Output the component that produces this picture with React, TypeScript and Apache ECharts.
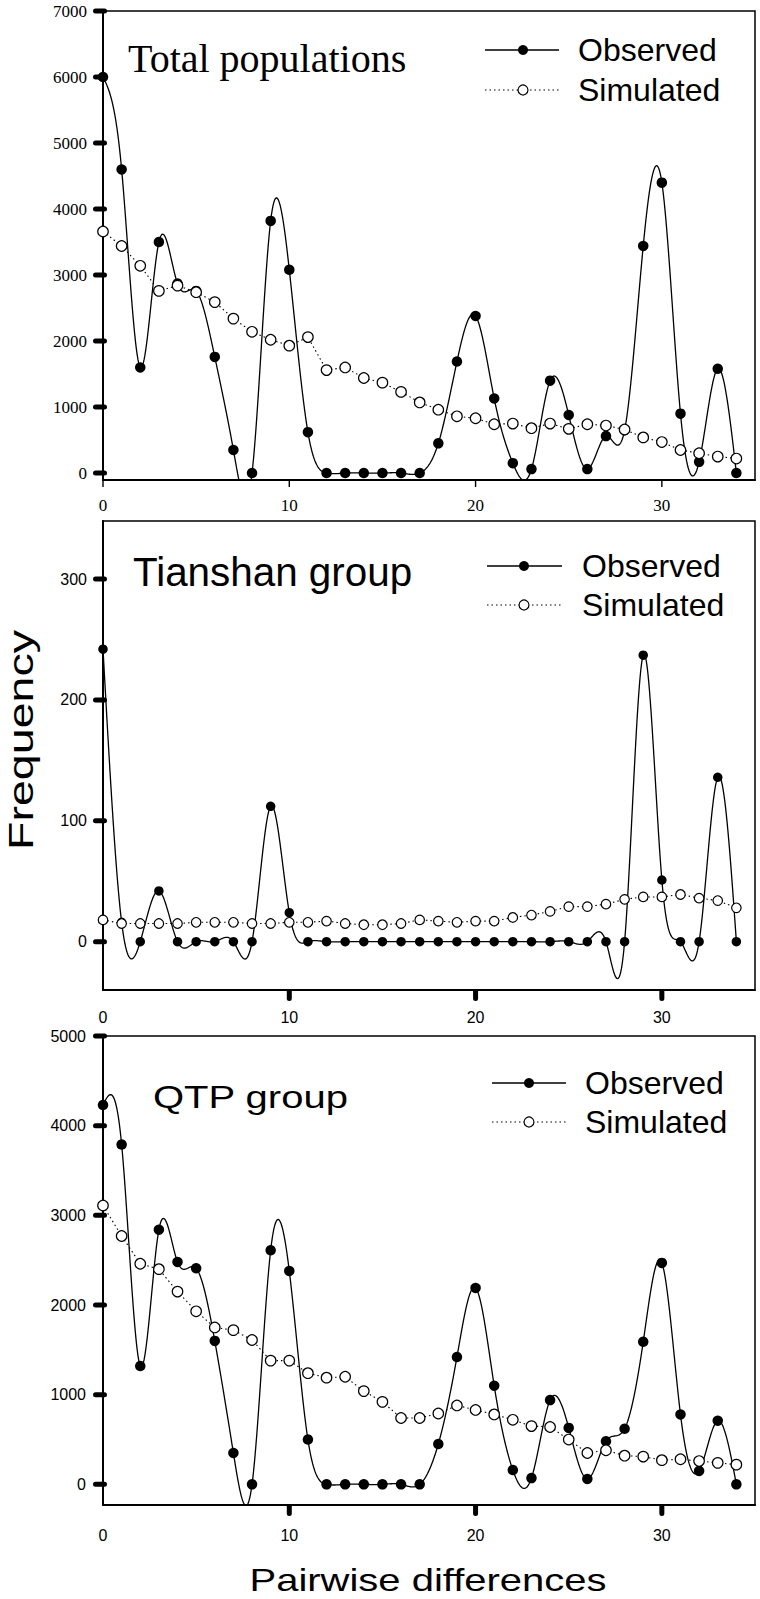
import React, { useEffect, useRef } from "react";
import * as echarts from "echarts";

// ---------------- data ----------------
const pairwise = [0, 1, 2, 3, 4, 5, 6, 7, 8, 9, 10, 11, 12, 13, 14, 15, 16, 17, 18, 19, 20, 21, 22, 23, 24, 25, 26, 27, 28, 29, 30, 31, 32, 33, 34];

const totalObserved = [6000, 4600, 1600, 3500, 2870, 2760, 1760, 350, 0, 3820, 3080, 620, 0, 0, 0, 0, 0, 0, 450, 1690, 2380, 1130, 150, 60, 1400, 880, 60, 560, 650, 3440, 4400, 900, 170, 1580, 0];
const totalSimulated = [3660, 3440, 3140, 2760, 2840, 2740, 2590, 2340, 2140, 2020, 1930, 2060, 1560, 1600, 1440, 1370, 1230, 1070, 960, 860, 830, 740, 750, 680, 750, 670, 740, 720, 660, 540, 470, 350, 300, 250, 220];

const tianshanObserved = [242, 16, 0, 42, 0, 0, 0, 0, 0, 112, 24, 0, 0, 0, 0, 0, 0, 0, 0, 0, 0, 0, 0, 0, 0, 0, 0, 0, 0, 237, 51, 0, 0, 136, 0];
const tianshanSimulated = [18, 15, 15, 15, 15, 16, 16, 16, 15, 15, 16, 16, 17, 15, 14, 14, 15, 18, 17, 16, 17, 17, 20, 22, 25, 29, 29, 31, 35, 37, 37, 39, 36, 34, 28];

const qtpObserved = [4230, 3790, 1320, 2840, 2480, 2410, 1600, 350, 0, 2610, 2380, 500, 0, 0, 0, 0, 0, 0, 450, 1420, 2190, 1100, 160, 70, 940, 630, 60, 480, 620, 1590, 2470, 780, 150, 710, 0];
const qtpSimulated = [3110, 2770, 2460, 2400, 2150, 1930, 1750, 1720, 1610, 1380, 1380, 1240, 1190, 1200, 1040, 920, 740, 740, 790, 880, 830, 780, 720, 650, 640, 500, 350, 380, 320, 310, 270, 280, 260, 240, 220];

const xTickLabels = [0, 10, 20, 30];
const xThickTicks = [10, 20, 30];
const totalYTicks = [0, 1000, 2000, 3000, 4000, 5000, 6000, 7000];
const tianshanYTicks = [0, 100, 200, 300];
const qtpYTicks = [0, 1000, 2000, 3000, 4000, 5000];

const panelTitles = ["Total populations", "Tianshan group", "QTP group"];
const legendNames = ["Observed", "Simulated"];
const xAxisTitle = "Pairwise differences";
const yAxisTitle = "Frequency";

// ---------------- helpers ----------------
const SERIF = "'Liberation Serif', 'Times New Roman', serif";
const SANS = "'Liberation Sans', Arial, sans-serif";

function naturalSpline(ys: number[]): number[] {
  const n = ys.length;
  const M = new Array(n).fill(0);
  if (n < 3) return M;
  const m = n - 2;
  const cp = new Array(m).fill(0);
  const dp = new Array(m).fill(0);
  for (let k = 0; k < m; k++) {
    const i = k + 1;
    const r = 6 * (ys[i + 1] - 2 * ys[i] + ys[i - 1]);
    if (k === 0) {
      cp[k] = 1 / 4;
      dp[k] = r / 4;
    } else {
      const den = 4 - cp[k - 1];
      cp[k] = 1 / den;
      dp[k] = (r - dp[k - 1]) / den;
    }
  }
  for (let k = m - 1; k >= 0; k--) {
    M[k + 1] = dp[k] - (k < m - 1 ? cp[k] * M[k + 2] : 0);
  }
  return M;
}

function makeSplineRenderer(ys: number[], yMin: number) {
  const M = naturalSpline(ys);
  return (params: any, api: any) => {
    const i = params.dataIndex;
    if (i >= ys.length - 1) return { type: "group", children: [] };
    const pts: number[][] = [];
    const steps = 24;
    for (let k = 0; k <= steps; k++) {
      const t = k / steps;
      const u = 1 - t;
      let y = u * ys[i] + t * ys[i + 1] + ((u * u * u - u) * M[i] + (t * t * t - t) * M[i + 1]) / 6;
      if (y < yMin) y = yMin;
      const x = pairwise[i] + t * (pairwise[i + 1] - pairwise[i]);
      pts.push(api.coord([x, y]));
    }
    return {
      type: "polyline",
      shape: { points: pts },
      style: { stroke: "#000", lineWidth: 1.3, fill: "none" },
    };
  };
}

const panels = [
  {
    obs: totalObserved,
    sim: totalSimulated,
    yMin: -105,
    yMax: 7000,
    yTicks: totalYTicks,
    top: 11,
    labelFont: SERIF,
    xThinTicks: true,
    xLabelMargin: 17,
    yLabelMargin: 16,
    legend: { x1: 485, x2: 559, mx: 523, oy: 50, sy: 90, tx: 578 },
    title: { x: 128, y: 58, font: SERIF, size: 40, scaleX: 1 },
    symbol: 10.5,
  },
  {
    obs: tianshanObserved,
    sim: tianshanSimulated,
    yMin: -40,
    yMax: 348,
    yTicks: tianshanYTicks,
    top: 521,
    labelFont: SANS,
    xThinTicks: false,
    xLabelMargin: 19,
    yLabelMargin: 16,
    legend: { x1: 487, x2: 562, mx: 524, oy: 566, sy: 605, tx: 582 },
    title: { x: 133, y: 573, font: SANS, size: 40, scaleX: 1.01 },
    symbol: 9.5,
  },
  {
    obs: qtpObserved,
    sim: qtpSimulated,
    yMin: -230,
    yMax: 5000,
    yTicks: qtpYTicks,
    top: 1036,
    labelFont: SANS,
    xThinTicks: false,
    xLabelMargin: 22,
    yLabelMargin: 17,
    legend: { x1: 492, x2: 566, mx: 529, oy: 1083, sy: 1122, tx: 585 },
    title: { x: 153, y: 1097, font: SANS, size: 32, scaleX: 1.25 },
    symbol: 10.5,
  },
];

export default function App() {
  const ref = useRef<HTMLDivElement>(null);

  useEffect(() => {
    if (!ref.current) return;
    const chart = echarts.init(ref.current, null, { renderer: "svg" });

    const grid: any[] = [];
    const xAxis: any[] = [];
    const yAxis: any[] = [];
    const series: any[] = [];
    const graphic: any[] = [];
    const plain = (v: number) => String(v);

    panels.forEach((p, k) => {
      grid.push({
        left: 103,
        right: 5,
        top: p.top,
        height: 469,
        show: true,
        borderColor: "#000",
        borderWidth: 1.5,
        backgroundColor: "transparent",
        containLabel: false,
        outerBoundsMode: "none",
      });
      xAxis.push({
        type: "value",
        gridIndex: k,
        min: 0,
        max: 35,
        axisLine: { show: true, onZero: false, lineStyle: { color: "#000", width: 2 } },
        axisTick: { show: false },
        axisLabel: {
          customValues: xTickLabels,
          formatter: plain,
          color: "#000",
          fontFamily: p.labelFont,
          fontSize: p.labelFont === SERIF ? 17 : 16,
          margin: p.xLabelMargin,
        },
        splitLine: { show: false },
      });
      yAxis.push({
        type: "value",
        gridIndex: k,
        min: p.yMin,
        max: p.yMax,
        axisLine: { show: true, onZero: false, lineStyle: { color: "#000", width: 2 } },
        axisTick: { show: false },
        axisLabel: {
          customValues: p.yTicks,
          formatter: plain,
          color: "#000",
          fontFamily: p.labelFont,
          fontSize: p.labelFont === SERIF ? 17 : 16,
          margin: p.yLabelMargin,
        },
        splitLine: { show: false },
      });

      series.push({
        type: "custom",
        name: legendNames[0] + " curve " + k,
        xAxisIndex: k,
        yAxisIndex: k,
        silent: true,
        z: 2,
        renderItem: makeSplineRenderer(p.obs, p.yMin),
        encode: { x: 0, y: 1 },
        data: p.obs.map((v, i) => [pairwise[i], v]),
      });
      series.push({
        type: "scatter",
        name: legendNames[0],
        xAxisIndex: k,
        yAxisIndex: k,
        symbol: "circle",
        symbolSize: p.symbol,
        itemStyle: { color: "#000", opacity: 1 },
        z: 3,
        data: p.obs.map((v, i) => [pairwise[i], v]),
      });
      series.push({
        type: "line",
        name: legendNames[1],
        xAxisIndex: k,
        yAxisIndex: k,
        symbol: "circle",
        symbolSize: p.symbol,
        showSymbol: true,
        showAllSymbol: true,
        lineStyle: { color: "#000", width: 1.1, type: [1.5, 3] },
        itemStyle: { color: "#fff", borderColor: "#000", borderWidth: 1.2, opacity: 1 },
        z: 4,
        data: p.sim.map((v, i) => [pairwise[i], v]),
      });

      // title
      graphic.push({
        type: "text",
        x: p.title.x,
        y: p.title.y,
        scaleX: p.title.scaleX,
        z: 10,
        style: {
          text: panelTitles[k],
          fontFamily: p.title.font,
          fontSize: p.title.size,
          fill: "#000",
          textAlign: "left",
          align: "left",
          textVerticalAlign: "middle",
          verticalAlign: "middle",
        },
      });
      // legend
      const L = p.legend;
      graphic.push({
        type: "line",
        z: 10,
        shape: { x1: L.x1, y1: L.oy, x2: L.x2, y2: L.oy },
        style: { stroke: "#000", lineWidth: 1.3 },
      });
      graphic.push({
        type: "circle",
        z: 11,
        shape: { cx: L.mx, cy: L.oy, r: 5 },
        style: { fill: "#000" },
      });
      graphic.push({
        type: "line",
        z: 10,
        shape: { x1: L.x1, y1: L.sy, x2: L.x2, y2: L.sy },
        style: { stroke: "#000", lineWidth: 1.1, lineDash: [1.5, 3] },
      });
      graphic.push({
        type: "circle",
        z: 11,
        shape: { cx: L.mx, cy: L.sy, r: 5 },
        style: { fill: "#fff", stroke: "#000", lineWidth: 1.2 },
      });
      [L.oy, L.sy].forEach((yy, j) => {
        graphic.push({
          type: "text",
          x: L.tx,
          y: yy,
          z: 10,
          style: {
            text: legendNames[j],
            fontFamily: SANS,
            fontSize: 32,
            fill: "#000",
            textAlign: "left",
            align: "left",
            textVerticalAlign: "middle",
            verticalAlign: "middle",
          },
        });
      });
    });

    graphic.push({
      type: "text",
      x: 428,
      y: 1581,
      scaleX: 1.29,
      z: 10,
      style: {
        text: xAxisTitle,
        fontFamily: SANS,
        fontSize: 31,
        fill: "#000",
        textAlign: "center",
        align: "center",
        textVerticalAlign: "middle",
        verticalAlign: "middle",
      },
    });
    graphic.push({
      type: "text",
      x: 21,
      y: 740,
      rotation: Math.PI / 2,
      scaleX: 1.33,
      z: 10,
      style: {
        text: yAxisTitle,
        fontFamily: SANS,
        fontSize: 35,
        fill: "#000",
        textAlign: "center",
        align: "center",
        textVerticalAlign: "middle",
        verticalAlign: "middle",
      },
    });

    chart.setOption({
      animation: false,
      backgroundColor: "#fff",
      grid,
      xAxis,
      yAxis,
      series,
      graphic: { elements: graphic },
    });

    // tick marks, positioned through the axes' own scales
    const ticks: any[] = [];
    panels.forEach((p, k) => {
      p.yTicks.forEach((v) => {
        const c = chart.convertToPixel({ gridIndex: k }, [0, v]) as number[];
        if (!c) return;
        ticks.push({
          type: "rect",
          z: 12,
          shape: { x: c[0] - 10, y: c[1] - 2.5, width: 14, height: 5, r: 2.5 },
          style: { fill: "#000" },
        });
      });
      const xt = p.xThinTicks ? xTickLabels : xThickTicks;
      xt.forEach((v) => {
        const c = chart.convertToPixel({ gridIndex: k }, [v, p.yMin]) as number[];
        if (!c) return;
        ticks.push(
          p.xThinTicks
            ? {
                type: "rect",
                z: 12,
                shape: { x: c[0] - 0.7, y: c[1], width: 1.4, height: 7 },
                style: { fill: "#000" },
              }
            : {
                type: "rect",
                z: 12,
                shape: { x: c[0] - 2.5, y: c[1] - 1, width: 5, height: 12, r: 2.5 },
                style: { fill: "#000" },
              }
        );
      });
    });
    chart.setOption({ graphic: { elements: graphic.concat(ticks) } });

    return () => chart.dispose();
  }, []);

  return (
    <div
      ref={ref}
      style={{ position: "absolute", left: 0, top: 0, width: 760, height: 1599, background: "#fff" }}
    />
  );
}
